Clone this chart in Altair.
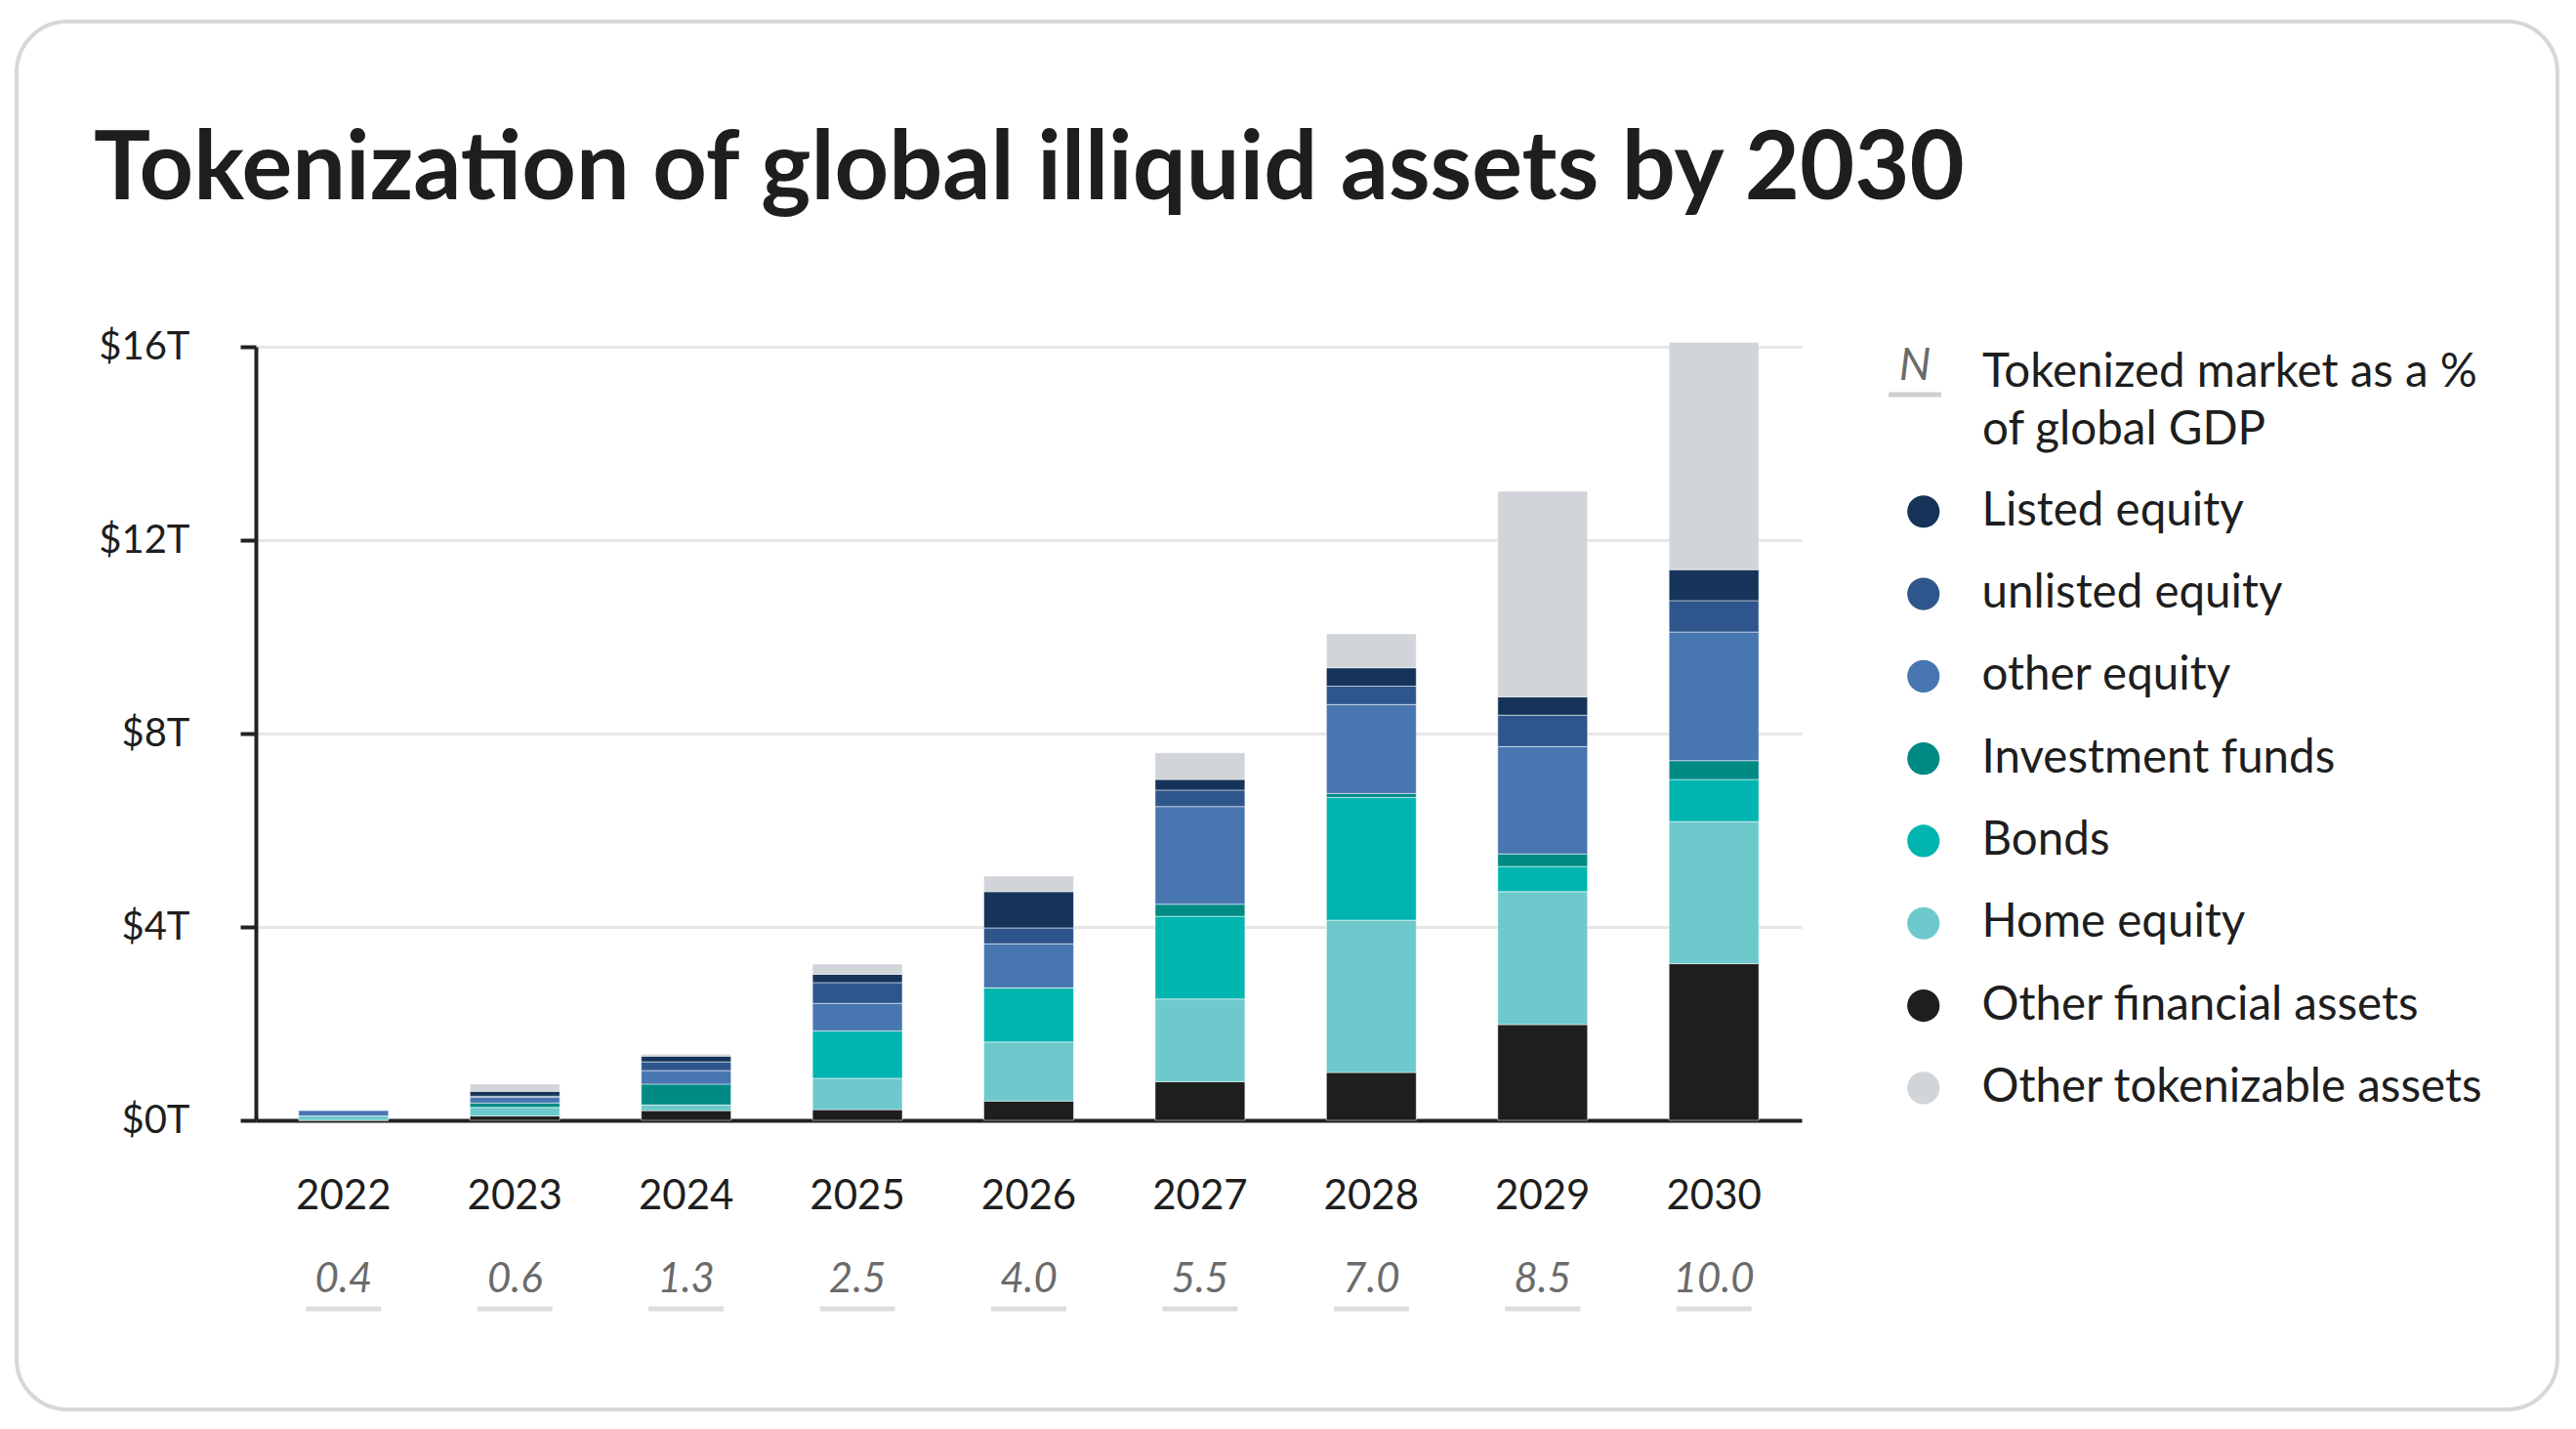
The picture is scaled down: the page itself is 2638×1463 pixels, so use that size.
import altair as alt
import pandas as pd

years = ["2022", "2023", "2024", "2025", "2026", "2027", "2028", "2029", "2030"]
gdp_share = ["0.4", "0.6", "1.3", "2.5", "4.0", "5.5", "7.0", "8.5", "10.0"]

# values in $ trillions, per asset class
other_financial = [0.00, 0.09, 0.20, 0.22, 0.40, 0.80, 0.99, 1.98, 3.24]
home_equity     = [0.09, 0.18, 0.12, 0.65, 1.22, 1.71, 3.15, 2.75, 2.94]
bonds           = [0.00, 0.00, 0.00, 0.98, 1.12, 1.71, 2.54, 0.52, 0.87]
investment_fund = [0.00, 0.09, 0.43, 0.00, 0.00, 0.25, 0.08, 0.26, 0.39]
other_equity    = [0.12, 0.12, 0.28, 0.57, 0.91, 2.02, 1.84, 2.22, 2.66]
unlisted_equity = [0.00, 0.02, 0.18, 0.43, 0.33, 0.34, 0.38, 0.65, 0.65]
listed_equity   = [0.00, 0.10, 0.12, 0.17, 0.75, 0.22, 0.38, 0.38, 0.64]
other_tokeniz   = [0.00, 0.15, 0.04, 0.21, 0.32, 0.55, 0.70, 4.25, 4.70]

legend_order = ["Listed equity", "unlisted equity", "other equity", "Investment funds",
                "Bonds", "Home equity", "Other financial assets", "Other tokenizable assets"]
colors = ["#16345a", "#2f568c", "#4876b0", "#008a84",
          "#00b5b0", "#6ec9cc", "#1e1e1e", "#d1d4d8"]

# bottom-to-top stack order
stack_series = [
    ("Other financial assets", other_financial),
    ("Home equity", home_equity),
    ("Bonds", bonds),
    ("Investment funds", investment_fund),
    ("other equity", other_equity),
    ("unlisted equity", unlisted_equity),
    ("Listed equity", listed_equity),
    ("Other tokenizable assets", other_tokeniz),
]

title_text = "Tokenization of global illiquid assets by 2030"
gdp_legend_lines = ["Tokenized market as a %", "of global GDP"]

rows = []
for idx, (name, vals) in enumerate(stack_series):
    for y, v in zip(years, vals):
        rows.append({"year": y, "asset": name, "value": v, "order": idx})
df = pd.DataFrame(rows)
gdp_df = pd.DataFrame({"year": years, "gdp": gdp_share})

W, H = 1583, 792
FONT = "Lato"

xscale = alt.Scale(domain=years, paddingInner=0.476, paddingOuter=0.25)

bars = alt.Chart(df).mark_bar(stroke="#ffffff", strokeWidth=1, strokeOpacity=0.5).encode(
    x=alt.X("year:N", scale=xscale, sort=years,
            axis=alt.Axis(title=None, labelAngle=0, labelFontSize=42, labelColor="#1e1e1e",
                          labelFont=FONT, ticks=False, labelPadding=57,
                          domainColor="#222222", domainWidth=4, grid=False)),
    y=alt.Y("value:Q", stack="zero",
            scale=alt.Scale(domain=[0, 16], nice=False),
            axis=alt.Axis(title=None, values=[0, 4, 8, 12, 16],
                          labelExpr="'$' + datum.value + 'T'",
                          labelFontSize=40, labelColor="#1e1e1e", labelFont=FONT,
                          labelPadding=52, tickSize=16, tickWidth=4, tickColor="#222222",
                          domainColor="#222222", domainWidth=4,
                          gridColor="#e6e6e6", gridWidth=3)),
    color=alt.Color("asset:N", scale=alt.Scale(domain=legend_order, range=colors),
                    legend=alt.Legend(title=None, orient="none", legendX=1684, legendY=145,
                                      symbolType="circle", symbolSize=1100, symbolStrokeWidth=0,
                                      labelFontSize=47.5, labelFont=FONT, labelColor="#1e1e1e",
                                      labelOffset=36, rowPadding=35.3, padding=0,
                                      labelLimit=800)),
    order=alt.Order("order:Q", sort="ascending"),
)

gdp_text = alt.Chart(gdp_df).mark_text(
    fontSize=42, font=FONT, fontStyle="italic", color="#6b6b6b", baseline="middle"
).encode(
    x=alt.X("year:N", scale=xscale, sort=years),
    y=alt.value(955),
    text="gdp:N",
)

gdp_line = alt.Chart(gdp_df).mark_tick(
    orient="horizontal", size=77, thickness=5, color="#cfcfcf"
).encode(
    x=alt.X("year:N", scale=xscale, sort=years),
    y=alt.value(985),
)

card = alt.Chart(pd.DataFrame({"k": [0]})).mark_rect(
    fill=None, stroke="#d6d7d9", strokeWidth=4, cornerRadius=52
).encode(
    x=alt.value(-245), x2=alt.value(2357), y=alt.value(-333), y2=alt.value(1088)
)

title = alt.Chart(pd.DataFrame({"t": [title_text]})).mark_text(
    fontSize=97, font=FONT, fontWeight="bold", color="#1e1e1e", align="left", baseline="alphabetic"
).encode(x=alt.value(-166), y=alt.value(-151), text="t:N")

n_symbol = alt.Chart(pd.DataFrame({"t": ["N"]})).mark_text(
    fontSize=46, font=FONT, fontStyle="italic", color="#6b6b6b", align="center", baseline="middle"
).encode(x=alt.value(1699), y=alt.value(20), text="t:N")

n_line = alt.Chart(pd.DataFrame({"k": [0]})).mark_rule(color="#cfcfcf", strokeWidth=5).encode(
    x=alt.value(1672), x2=alt.value(1726), y=alt.value(49)
)

gdp_leg_df = pd.DataFrame({"t": gdp_legend_lines, "row": [0, 1]})
gdp_leg = alt.Chart(gdp_leg_df).mark_text(
    fontSize=47.5, font=FONT, color="#1e1e1e", align="left", baseline="middle"
).encode(
    x=alt.value(1768),
    y=alt.Y("row:Q", scale=alt.Scale(domain=[0, 1], range=[27, 86]), axis=None),
    text="t:N",
)

chart = alt.layer(card, title, bars, gdp_text, gdp_line, n_symbol, n_line, gdp_leg).resolve_scale(
    y="independent"
).properties(
    width=W, height=H,
    autosize=alt.AutoSizeParams(type="none"),
    padding={"left": 254, "top": 347, "right": 785, "bottom": 300},
    background="white",
).configure_view(stroke=None)

chart.save("out.html", embed_options={"renderer": "svg", "actions": False})
